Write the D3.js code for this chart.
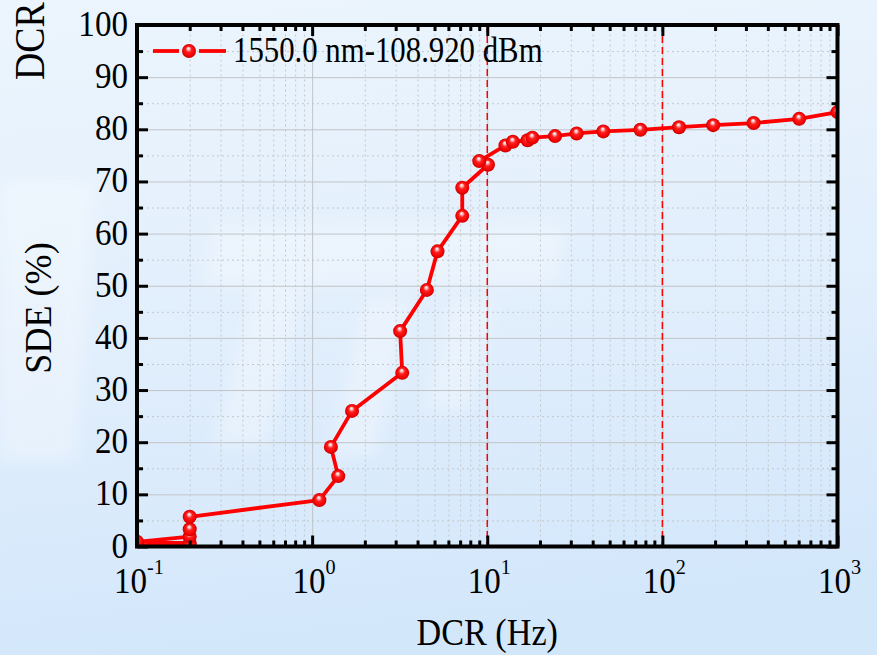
<!DOCTYPE html>
<html>
<head>
<meta charset="utf-8">
<script src="https://cdn.jsdelivr.net/npm/d3@7"></script>
<style>
  html, body { margin: 0; padding: 0; overflow: hidden; background: #dcebfb; }
  svg { display: block; }
  text { font-family: "Liberation Serif", "Times New Roman", serif; fill: #000; }
</style>
</head>
<body>
<svg id="chart" width="877" height="655"></svg>
<script>
// Dark count rate (Hz) and system detection efficiency (%) for each bias point
const dcr = [0.1, 0.2, 0.2, 0.1, 0.2, 0.2, 0.2, 1.1, 1.41, 1.28, 1.69, 3.27, 3.18, 4.52, 5.2, 7.2, 7.2,
             10.1, 9.0, 12.7, 14.0, 17.0, 18.1, 24.4, 32.4, 46.0, 74.9, 124.5, 195, 332, 604, 1000];
const sde = [0.1, 0.3, 0.7, 0.9, 1.9, 3.3, 5.7, 8.9, 13.5, 19.1, 26.0, 33.3, 41.3, 49.2, 56.6, 63.4, 68.8,
             73.2, 73.9, 76.9, 77.6, 77.9, 78.4, 78.7, 79.2, 79.6, 79.9, 80.4, 80.8, 81.2, 82.0, 83.3];
const seriesName = "1550.0 nm-108.920 dBm";

const xTickExponents = [-1, 0, 1, 2, 3];
const yTickValues = [0, 10, 20, 30, 40, 50, 60, 70, 80, 90, 100];
const refLinesDCR = [10, 100];

const xTitle = "DCR (Hz)";
const yTitle = "SDE (%)";
const sideLabel = "DCR";

const W = 877, H = 655;
const plot = { left: 137, right: 837.5, top: 25, bottom: 546.5 };

const svg = d3.select("#chart");
const defs = svg.append("defs");

// background wash
const bg = defs.append("linearGradient").attr("id", "bg").attr("x1", 0).attr("y1", 0).attr("x2", 0.15).attr("y2", 1);
bg.append("stop").attr("offset", "0%").attr("stop-color", "#ecf5fd");
bg.append("stop").attr("offset", "55%").attr("stop-color", "#e1eefc");
bg.append("stop").attr("offset", "100%").attr("stop-color", "#d3e7fb");
svg.append("rect").attr("width", W).attr("height", H).attr("fill", "url(#bg)");

defs.append("filter").attr("id", "soft").append("feGaussianBlur").attr("stdDeviation", 8);
const wm = svg.append("g").attr("filter", "url(#soft)").attr("fill", "#ffffff").attr("opacity", 0.3);
[
  [[215, 225], [565, 225], [555, 285], [205, 285]],
  [[255, 285], [305, 285], [265, 445], [215, 445]],
  [[365, 300], [410, 300], [375, 455], [330, 455]],
  [[450, 300], [495, 300], [470, 410], [425, 410]],
  [[0, 180], [95, 180], [75, 460], [0, 460]]
].forEach(p => wm.append("polygon").attr("points", p.map(d => d.join(",")).join(" ")));

// sphere marker fill
const ball = defs.append("radialGradient").attr("id", "ball")
  .attr("cx", "50%").attr("cy", "50%").attr("r", "50%").attr("fx", "45%").attr("fy", "30%");
ball.append("stop").attr("offset", "0%").attr("stop-color", "#ffffff");
ball.append("stop").attr("offset", "18%").attr("stop-color", "#ffc0c0");
ball.append("stop").attr("offset", "42%").attr("stop-color", "#ff2020");
ball.append("stop").attr("offset", "85%").attr("stop-color", "#ee0000");
ball.append("stop").attr("offset", "100%").attr("stop-color", "#c00000");

defs.append("clipPath").attr("id", "plotClip").append("rect")
  .attr("x", plot.left).attr("y", plot.top)
  .attr("width", plot.right - plot.left).attr("height", plot.bottom - plot.top);

const x = d3.scaleLog().domain([0.1, 1000]).range([plot.left, plot.right]);
const y = d3.scaleLinear().domain([0, 100]).range([plot.bottom, plot.top]);

const xMajor = xTickExponents.map(e => Math.pow(10, e));
const xMinor = [];
xTickExponents.slice(0, -1).forEach(e => { for (let k = 2; k <= 9; k++) xMinor.push(k * Math.pow(10, e)); });
const yMinor = yTickValues.slice(0, -1).map(v => v + 5);

const ph = plot.bottom - plot.top, pw = plot.right - plot.left;

// grid
function gridStyle(g, color, dash) {
  g.select(".domain").remove();
  g.selectAll("line").attr("stroke", color).attr("stroke-width", 1).attr("stroke-dasharray", dash);
  g.selectAll("text").remove();
}
svg.append("g").attr("transform", `translate(0,${plot.bottom})`)
  .call(d3.axisBottom(x).tickValues(xMinor).tickSize(-ph)).call(g => gridStyle(g, "#c4c8cc", "2,3"));
svg.append("g").attr("transform", `translate(${plot.left},0)`)
  .call(d3.axisLeft(y).tickValues(yMinor).tickSize(-pw)).call(g => gridStyle(g, "#c4c8cc", "2,3"));
svg.append("g").attr("transform", `translate(0,${plot.bottom})`)
  .call(d3.axisBottom(x).tickValues(xMajor).tickSize(-ph)).call(g => gridStyle(g, "#c2c4c6", null));
svg.append("g").attr("transform", `translate(${plot.left},0)`)
  .call(d3.axisLeft(y).tickValues(yTickValues).tickSize(-pw)).call(g => gridStyle(g, "#c2c4c6", null));

// reference lines
svg.append("g").selectAll("line").data(refLinesDCR).join("line")
  .attr("x1", d => x(d)).attr("x2", d => x(d))
  .attr("y1", plot.top).attr("y2", plot.bottom)
  .attr("stroke", "#ff0000").attr("stroke-width", 1.5).attr("stroke-dasharray", "7,4");

// data
const pts = dcr.map((d, i) => [d, sde[i]]);
const data = svg.append("g").attr("clip-path", "url(#plotClip)");
data.append("path").datum(pts)
  .attr("fill", "none").attr("stroke", "#ff0000").attr("stroke-width", 3.8).attr("stroke-linejoin", "round")
  .attr("d", d3.line().x(d => x(d[0])).y(d => y(d[1])));
data.selectAll("circle").data(pts).join("circle")
  .attr("cx", d => x(d[0])).attr("cy", d => y(d[1])).attr("r", 7)
  .attr("fill", "url(#ball)");

// axis ticks (inward on all four sides)
function tickStyle(g) {
  g.select(".domain").remove();
  g.selectAll("line").attr("stroke", "#000").attr("stroke-width", 3);
  g.selectAll("text").remove();
}
const tb = (gen, sel) => svg.append("g").attr("transform", sel).call(gen).call(tickStyle);
tb(d3.axisBottom(x).tickValues(xMajor).tickSize(-11), `translate(0,${plot.bottom})`);
tb(d3.axisBottom(x).tickValues(xMinor).tickSize(-6), `translate(0,${plot.bottom})`);
tb(d3.axisTop(x).tickValues(xMajor).tickSize(-11), `translate(0,${plot.top})`);
tb(d3.axisTop(x).tickValues(xMinor).tickSize(-6), `translate(0,${plot.top})`);
tb(d3.axisLeft(y).tickValues(yTickValues).tickSize(-11), `translate(${plot.left},0)`);
tb(d3.axisLeft(y).tickValues(yMinor).tickSize(-6), `translate(${plot.left},0)`);
tb(d3.axisRight(y).tickValues(yTickValues).tickSize(-11), `translate(${plot.right},0)`);
tb(d3.axisRight(y).tickValues(yMinor).tickSize(-6), `translate(${plot.right},0)`);

// frame
svg.append("rect").attr("x", plot.left).attr("y", plot.top).attr("width", pw).attr("height", ph)
  .attr("fill", "none").attr("stroke", "#000").attr("stroke-width", 4);

// tick labels
const SX = 0.92;
svg.append("g").selectAll("text").data(yTickValues).join("text")
  .attr("transform", d => `translate(${plot.left - 9},${y(d) + 11}) scale(${SX},1)`)
  .attr("text-anchor", "end").attr("font-size", 36).text(d => d);

const xl = svg.append("g").selectAll("text").data(xTickExponents).join("text")
  .attr("transform", e => `translate(${x(Math.pow(10, e)) + 2},593) scale(${SX},1)`)
  .attr("text-anchor", "middle").attr("font-size", 36);
xl.append("tspan").text("10");
xl.append("tspan").attr("font-size", 22).attr("dy", -19).text(e => String(e));

// axis titles
svg.append("text").attr("transform", `translate(${(plot.left + plot.right) / 2},645) scale(0.9,1)`)
  .attr("text-anchor", "middle").attr("font-size", 38).text(xTitle);
svg.append("text").attr("transform", `translate(51,308) rotate(-90) scale(0.95,1)`)
  .attr("text-anchor", "middle").attr("font-size", 38).text(yTitle);
svg.append("text").attr("transform", `translate(44,80) rotate(-90) scale(0.9,1)`)
  .attr("text-anchor", "start").attr("font-size", 42).text(sideLabel);

// legend
const lg = svg.append("g");
const ly = 51;
lg.append("line").attr("x1", 153).attr("x2", 179).attr("y1", ly).attr("y2", ly).attr("stroke", "#ff0000").attr("stroke-width", 3.8);
lg.append("line").attr("x1", 199).attr("x2", 226).attr("y1", ly).attr("y2", ly).attr("stroke", "#ff0000").attr("stroke-width", 3.8);
lg.append("circle").attr("cx", 189).attr("cy", ly).attr("r", 7).attr("fill", "url(#ball)");
lg.append("text").attr("transform", `translate(233,${ly + 11}) scale(0.88,1)`)
  .attr("font-size", 35).text(seriesName);
</script>
</body>
</html>
